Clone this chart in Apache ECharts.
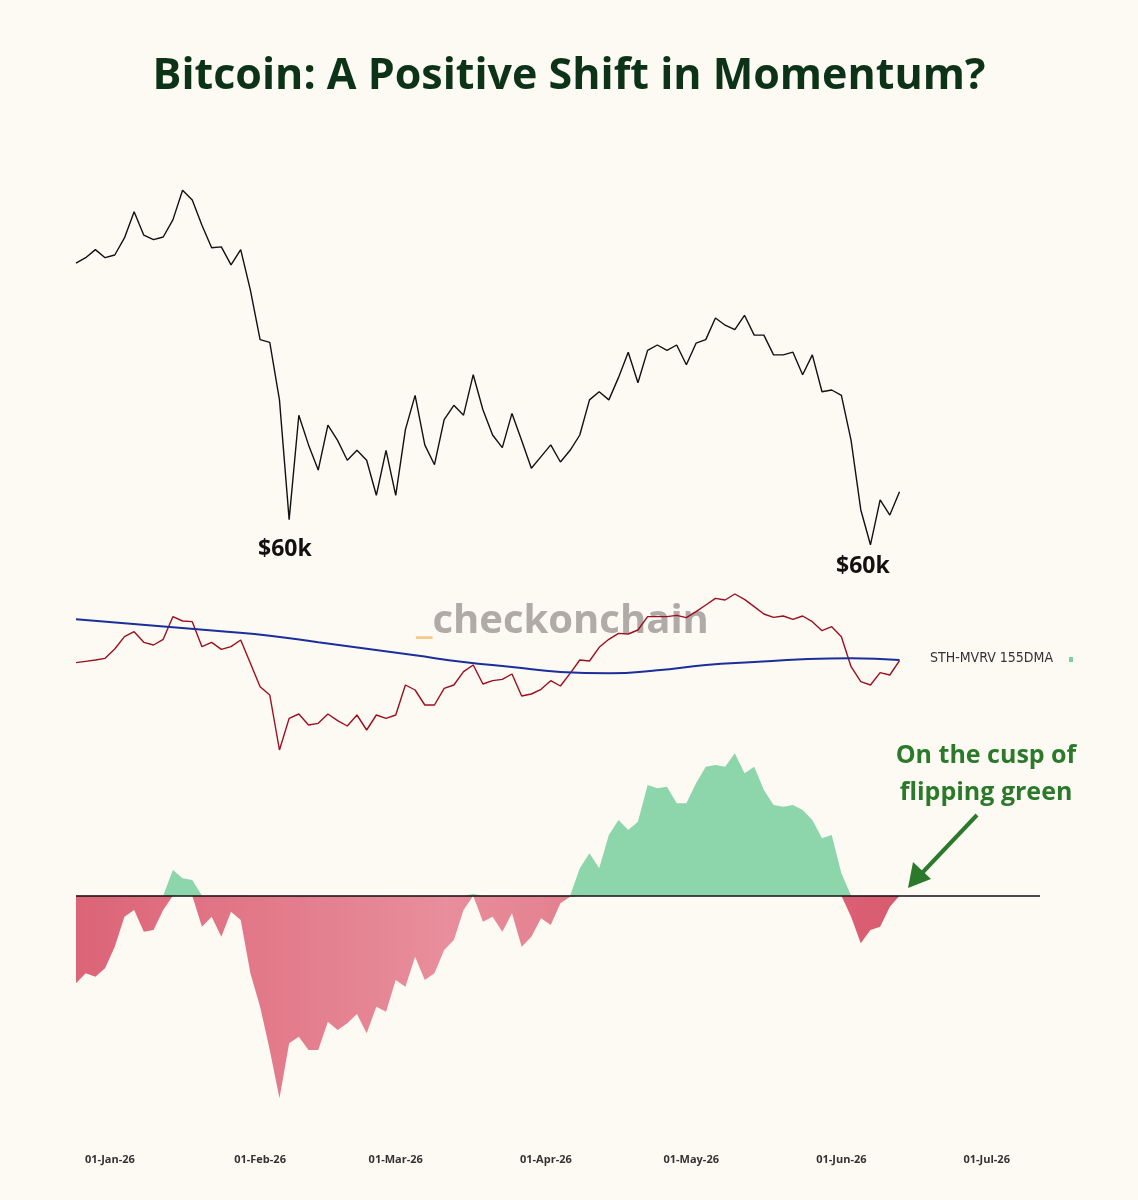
<!DOCTYPE html>
<html><head><meta charset="utf-8">
<script src="https://cdn.jsdelivr.net/npm/echarts@6/dist/echarts.min.js"></script>
<style>html,body{margin:0;background:#fdf9f3}#c{width:1138px;height:1200px}</style>
</head><body><div id="c"></div>
<script>
// Every-2-day samples starting 25-Dec-25
const price = [89.1,89.7,90.6,89.7,90.0,91.9,94.8,92.2,91.7,92.0,93.9,97.2,96.1,93.3,90.8,90.9,88.9,90.6,86.1,80.6,
80.3,73.9,60.6,72.2,68.9,66.1,71.1,69.4,67.2,68.3,67.2,63.3,68.3,63.3,70.6,74.4,68.9,66.7,71.7,73.3,
72.2,76.7,72.8,70.0,68.6,72.4,69.4,66.3,67.6,68.9,67.0,68.3,70.0,73.9,74.8,73.9,76.4,79.2,75.8,79.4,
80.0,79.4,80.0,77.8,80.2,80.6,83.0,82.2,81.7,83.3,81.1,81.1,78.9,78.9,79.2,76.7,78.9,74.8,75.0,74.4,
69.4,61.7,57.8,62.8,61.1,63.7];
const sthMvrv = [-218,-214,-210,-205,-177,-140,-125,-157,-165,-148,-80,-93,-95,-170,-157,-178,-170,-150,-220,-290,
-315,-480,-385,-372,-405,-400,-372,-392,-408,-375,-420,-375,-385,-375,-285,-300,-345,-345,-295,-285,
-245,-225,-282,-272,-268,-252,-318,-312,-298,-272,-288,-250,-210,-213,-172,-148,-130,-132,-120,-80,
-80,-80,-76,-83,-65,-45,-25,-30,-12,-28,-50,-72,-82,-78,-88,-78,-95,-122,-110,-140,
-230,-275,-285,-248,-255,-212];
// every-10-day samples
const sth155 = [-88,-100,-112,-124,-137,-157,-176,-196,-216,-231,-246,-250,-241,-225,-216,-208,-205,-210];
const momentum = [-263,-233,-243,-218,-153,-63,-43,-108,-103,-43,77,52,47,-93,-63,-123,-48,-73,-233,-333,
-463,-608,-443,-423,-463,-463,-378,-403,-383,-355,-413,-333,-348,-253,-273,-183,-253,-233,-163,-133,
-43,5,-78,-63,-108,-53,-153,-123,-68,-88,-23,-3,82,127,82,182,227,197,222,332,
322,327,277,277,337,387,392,387,427,367,387,317,272,267,272,257,227,172,182,67,
-63,-143,-103,-93,-33,0];

const mon = ['Jan','Feb','Mar','Apr','May','Jun','Jul','Aug','Sep','Oct','Nov','Dec'];
const categories = [];
for (let d = new Date(Date.UTC(2025,11,25)); categories.length < 200; d.setUTCDate(d.getUTCDate()+1)) {
  categories.push(String(d.getUTCDate()).padStart(2,'0') + '-' + mon[d.getUTCMonth()] + '-' + String(d.getUTCFullYear()).slice(2));
}
const p2 = a => a.map((v,i)=>[i*2,v]);
const p10 = a => a.map((v,i)=>[i*10,v]);
const pos = momentum.map((v,i)=>[i*2, Math.max(v,0)]);
const neg = momentum.map((v,i)=>[i*2, Math.min(v,0)]);

const chart = echarts.init(document.getElementById('c'));
const xa = (gi, show) => ({
  type:'category', gridIndex:gi, data:categories, boundaryGap:false,
  axisLine:{show:false}, axisTick:{show:false}, splitLine:{show:false},
  axisLabel: show ? {show:true, margin:44, color:'#333', fontSize:11, fontWeight:'bold', fontFamily:'Open Sans',
    interval:(i,v)=>v.startsWith('01-')} : {show:false}
});
chart.setOption({
  backgroundColor:'#fdf9f3',
  animation:false,
  title:{text:'Bitcoin: A Positive Shift in Momentum?', left:'center', top:50,
    textStyle:{fontFamily:'Open Sans', fontWeight:'bold', fontSize:43, color:'#0c3318'}},
  grid:[
    {left:76, right:98, top:165, height:405},
    {left:76, right:98, top:590, height:170},
    {left:76, right:98, top:740, height:370}
  ],
  xAxis:[xa(0,false), xa(1,false), xa(2,true)],
  yAxis:[
    {gridIndex:0, type:'value', min:55, max:100, show:false},
    {gridIndex:1, type:'value', min:-510, max:0, show:false},
    {gridIndex:2, type:'value', min:-643, max:467, show:false}
  ],
  series:[
    {type:'line', xAxisIndex:0, yAxisIndex:0, data:p2(price), symbol:'none', lineStyle:{color:'#111', width:1.4}},
    {type:'line', xAxisIndex:1, yAxisIndex:1, data:p2(sthMvrv), symbol:'none', lineStyle:{color:'#9b0f1f', width:1.4}},
    {type:'line', xAxisIndex:1, yAxisIndex:1, data:p10(sth155), symbol:'none', smooth:true, lineStyle:{color:'#1a2f9c', width:2}},
    {type:'line', xAxisIndex:2, yAxisIndex:2, data:pos, symbol:'none', lineStyle:{width:0},
      areaStyle:{color:'#8dd5ab', opacity:1}},
    {type:'line', xAxisIndex:2, yAxisIndex:2, data:neg, symbol:'none', lineStyle:{width:0},
      areaStyle:{color:new echarts.graphic.LinearGradient(0,0,1,0,[{offset:0,color:'#dc6477'},{offset:0.45,color:'#e88e9c'},{offset:1,color:'#d95a6e'}]), opacity:1},
      markLine:{symbol:'none', silent:true, label:{show:false}, lineStyle:{color:'#111', width:1.5, type:'solid'},
        data:[[{coord:[0,0]},{coord:[199,0]}]]}}
  ],
  graphic:[
    {type:'text', left:258, top:538, style:{text:'$60k', fontFamily:'Open Sans', fontWeight:'bold', fontSize:23, fill:'#111'}},
    {type:'text', left:836, top:555, style:{text:'$60k', fontFamily:'Open Sans', fontWeight:'bold', fontSize:23, fill:'#111'}},
    {type:'text', left:416, top:602, style:{text:'{a|_}{b|checkonchain}', rich:{
      a:{fontFamily:'Open Sans', fontSize:40, fontWeight:'bold', fill:'#f2c98a'},
      b:{fontFamily:'Open Sans', fontSize:40, fontWeight:'bold', fill:'#b0aba6'}}}},
    {type:'text', left:930, top:651, style:{text:'STH-MVRV 155DMA', fontFamily:'DejaVu Sans Condensed', fontSize:14, fill:'#333'}},
    {type:'rect', left:1069, top:657, shape:{width:4,height:5}, style:{fill:'#7fd0a0'}},
    {type:'rect', left:648, top:850, shape:{width:145,height:21}, style:{fill:'#ffffff'}},
    {type:'text', left:653, top:853, style:{text:'Positive Momentum', fontFamily:'DejaVu Sans Condensed', fontSize:13, fill:'#222'}},
    {type:'text', x:986, y:737, style:{text:'On the cusp of\nflipping green', textAlign:'center', lineHeight:37,
      fontFamily:'Open Sans', fontWeight:'bold', fontSize:25, fill:'#2b7a2b'}},
    {type:'line', shape:{x1:977,y1:815,x2:922,y2:873}, style:{stroke:'#2b7a2b', lineWidth:4}},
    {type:'polygon', shape:{points:[[908,888],[913,862],[931,879]]}, style:{fill:'#2b7a2b'}}
  ]
});
</script></body></html>
